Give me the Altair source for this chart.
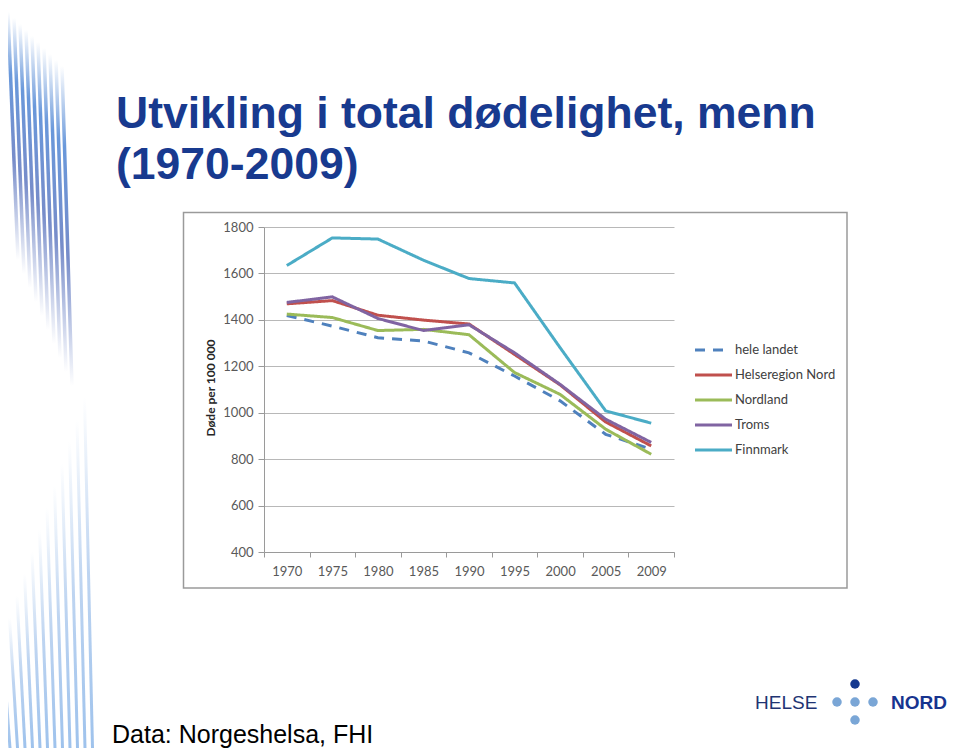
import altair as alt
import pandas as pd

# ---------------- data ----------------
years = ["1970", "1975", "1980", "1985", "1990", "1995", "2000", "2005", "2009"]
series_names = ["hele landet", "Helseregion Nord", "Nordland", "Troms", "Finnmark"]
hele_landet = [1419, 1373, 1323, 1309, 1258, 1158, 1051, 907, 843]
helseregion_nord = [1469, 1483, 1420, 1399, 1382, 1251, 1120, 960, 857]
nordland = [1425, 1410, 1354, 1359, 1336, 1173, 1079, 929, 821]
troms = [1475, 1499, 1406, 1354, 1379, 1258, 1122, 972, 872]
finnmark = [1634, 1753, 1748, 1657, 1578, 1559, 1280, 1008, 955]
y_ticks = [400, 600, 800, 1000, 1200, 1400, 1600, 1800]

series_colors = ["#4F81BD", "#C0504D", "#9BBB59", "#8064A2", "#4BACC6"]
series_dash = [[10, 8], [1, 0], [1, 0], [1, 0], [1, 0]]

title_lines = ["Utvikling i total dødelighet, menn", "(1970-2009)"]
y_title = "Døde per 100 000"
source_text = "Data: Norgeshelsa, FHI"

values = [hele_landet, helseregion_nord, nordland, troms, finnmark]
rows = []
for name, vals in zip(series_names, values):
    for yr, v in zip(years, vals):
        rows.append({"year": yr, "series": name, "value": v})
df = pd.DataFrame(rows)

# ---------------- layout (pixels relative to plot origin) ----------------
PW, PH = 410, 325
PAD = {"left": 256, "top": 219, "right": 278, "bottom": 196}

color_scale = alt.Scale(domain=series_names, range=series_colors)
dash_scale = alt.Scale(domain=series_names, range=series_dash)

# decorative stripes (page coords converted to plot coords)
up = []
for i in range(10):
    x0 = 8 + 6 * i
    up.append({"x": x0 - 264, "y": 12 + 6 * i - 227, "x2": x0 + 10 - 264, "y2": 260 + 14 * i - 227})
lo = []
for i in range(12):
    xb = 10 + 7.5 * i
    lo.append({"x": xb - 8 - 264, "y": 640 - 22 * i - 227, "x2": xb - 264, "y2": 748 - 227})
up_df = pd.DataFrame(up)
lo_df = pd.DataFrame(lo)

stripes_up = alt.Chart(up_df).mark_rule(
    strokeWidth=3.5, opacity=0.85,
    stroke=alt.LinearGradient(gradient="linear", x1=0, x2=0, y1=0, y2=1, stops=[
        alt.GradientStop(color="#ffffff", offset=0),
        alt.GradientStop(color="#4f86d4", offset=0.25),
        alt.GradientStop(color="#5f78c0", offset=0.6),
        alt.GradientStop(color="#ffffff", offset=1)])
).encode(
    x=alt.X("x:Q", scale=None), x2="x2:Q",
    y=alt.Y("y:Q", scale=None), y2="y2:Q")

stripes_lo = alt.Chart(lo_df).mark_rule(
    strokeWidth=3, opacity=0.75,
    stroke=alt.LinearGradient(gradient="linear", x1=0, x2=0, y1=0, y2=1, stops=[
        alt.GradientStop(color="#ffffff", offset=0),
        alt.GradientStop(color="#a8c6ec", offset=0.5),
        alt.GradientStop(color="#7eaee6", offset=1)])
).encode(
    x=alt.X("x:Q", scale=None), x2="x2:Q",
    y=alt.Y("y:Q", scale=None), y2="y2:Q")

frame = alt.Chart(pd.DataFrame({"a": [0]})).mark_rect(
    fillOpacity=0, stroke="#9a9a9a", strokeWidth=1.5
).encode(x=alt.value(-80.5), x2=alt.value(583), y=alt.value(-14.5), y2=alt.value(361))

lines = alt.Chart(df).mark_line(strokeWidth=3).encode(
    x=alt.X("year:O", bandPosition=0.5,
            scale=alt.Scale(type="band", paddingInner=0, paddingOuter=0),
            axis=alt.Axis(title=None, labelAngle=0, tickBand="extent", grid=False,
                          labelFont="Lato", labelFontSize=13, labelColor="#595959",
                          tickColor="#9a9a9a", domainColor="#9a9a9a", tickSize=5,
                          labelPadding=8)),
    y=alt.Y("value:Q", scale=alt.Scale(domain=[400, 1800], nice=False, zero=False),
            axis=alt.Axis(title=None, values=y_ticks, format="d", grid=True, gridColor="#b8b8b8",
                          labelFont="Lato", labelFontSize=13, labelColor="#595959",
                          tickColor="#9a9a9a", domainColor="#9a9a9a", tickSize=6,
                          labelPadding=5)),
    color=alt.Color("series:N", scale=color_scale, legend=None),
    strokeDash=alt.StrokeDash("series:N", scale=dash_scale, legend=None),
)

# legend (layout table)
leg_df = pd.DataFrame({
    "series": series_names,
    "ly": [123, 148, 173, 198, 223],
    "lx": [431, 431, 431, 431, 431],
    "lx2": [459, 468, 468, 468, 468],
})
leg_lines = alt.Chart(leg_df).mark_rule(strokeWidth=3).encode(
    x=alt.X("lx:Q", scale=None), x2="lx2:Q",
    y=alt.Y("ly:Q", scale=None),
    color=alt.Color("series:N", scale=color_scale, legend=None),
    strokeDash=alt.StrokeDash("series:N", scale=dash_scale, legend=None),
)
leg_text = alt.Chart(leg_df).mark_text(
    align="left", baseline="middle", font="Lato", fontSize=13, color="#404040"
).encode(x=alt.value(471), y=alt.Y("ly:Q", scale=None), text="series:N")

ytitle = alt.Chart(pd.DataFrame({"t": [y_title]})).mark_text(
    angle=270, align="center", baseline="middle", font="Lato", fontSize=12,
    fontWeight="bold", color="#262626"
).encode(x=alt.value(-53), y=alt.value(161), text="t:N")

title_df = pd.DataFrame({"t": title_lines, "x": [-148, -148], "y": [-99, -48]})
title = alt.Chart(title_df).mark_text(
    align="left", baseline="alphabetic", font="Liberation Sans", fontSize=44.5,
    fontWeight="bold", color="#183A8F"
).encode(x=alt.X("x:Q", scale=None), y=alt.Y("y:Q", scale=None), text="t:N")

source = alt.Chart(pd.DataFrame({"t": [source_text]})).mark_text(
    align="left", baseline="alphabetic", font="Liberation Sans", fontSize=25, color="#000000"
).encode(x=alt.value(-152), y=alt.value(516), text="t:N")

helse = alt.Chart(pd.DataFrame({"t": ["HELSE"]})).mark_text(
    align="left", baseline="alphabetic", font="Liberation Sans", fontSize=19, color="#1F3473"
).encode(x=alt.value(491), y=alt.value(482), text="t:N")
nord = alt.Chart(pd.DataFrame({"t": ["NORD"]})).mark_text(
    align="left", baseline="alphabetic", font="Liberation Sans", fontSize=19,
    fontWeight="bold", color="#17348F"
).encode(x=alt.value(627), y=alt.value(482), text="t:N")

dots_df = pd.DataFrame({"x": [573, 591, 609, 591], "y": [475, 475, 475, 493]})
dots = alt.Chart(dots_df).mark_circle(size=90, opacity=1, color="#7AA6D6").encode(
    x=alt.X("x:Q", scale=None), y=alt.Y("y:Q", scale=None))
dot_top = alt.Chart(pd.DataFrame({"a": [0]})).mark_circle(size=90, opacity=1, color="#15398F").encode(
    x=alt.value(591), y=alt.value(457))

chart = alt.layer(
    stripes_up, stripes_lo, frame, lines, leg_lines, leg_text, ytitle, title, source,
    helse, nord, dots, dot_top
).resolve_scale(x="independent", y="independent").properties(
    width=PW, height=PH, padding=PAD, autosize=alt.AutoSizeParams(type="none"),
    background="#ffffff"
).configure_view(stroke=None)

chart.save("out.html", embed_options={"renderer": "svg", "actions": False})
